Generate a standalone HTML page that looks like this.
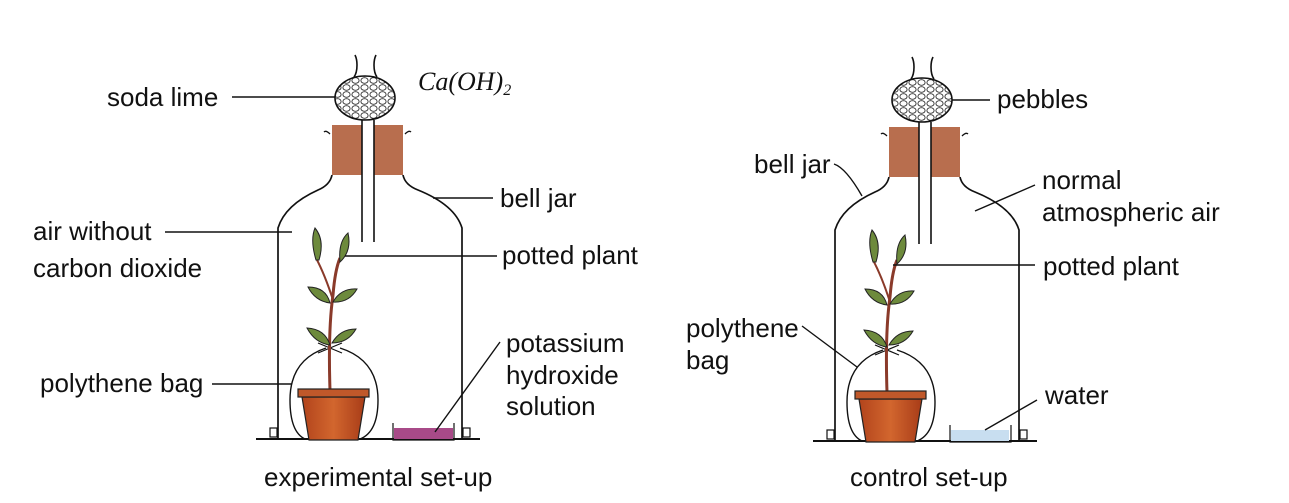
<!DOCTYPE html>
<html><head><meta charset="utf-8"><style>
html,body{margin:0;padding:0;background:#fff;}
svg{display:block;font-family:"Liberation Sans",sans-serif;}
</style></head><body>
<svg width="1289" height="503" viewBox="0 0 1289 503" xmlns="http://www.w3.org/2000/svg">
<defs>
<pattern id="peb" width="9" height="7" patternUnits="userSpaceOnUse">
<rect width="9" height="7" fill="#fff"/>
<ellipse cx="4.5" cy="3.5" rx="3.6" ry="2.8" fill="#fff" stroke="#333" stroke-width="0.9"/>
</pattern>
<linearGradient id="pot" x1="0" x2="1"><stop offset="0" stop-color="#b2441c"/><stop offset="0.5" stop-color="#d2662e"/><stop offset="1" stop-color="#a83c18"/></linearGradient>
<g id="setup">
 <path d="M355 55 q2 4 2 10 q0 8 -3 12 M376 55 q-2 4 -2 10 q0 8 3 12" fill="none" stroke="#111" stroke-width="1.6"/>
 <ellipse cx="365" cy="98" rx="30" ry="22" fill="url(#peb)" stroke="#111" stroke-width="1.6"/>
 <rect x="332" y="125" width="30" height="50" fill="#b86e4e"/>
 <rect x="374" y="125" width="29" height="50" fill="#b86e4e"/>
 <path d="M330 134 q-4 -4 -6 -2 M405 134 q4 -4 6 -2" stroke="#111" fill="none" stroke-width="1.3"/>
 <path d="M362 120 V242 M374 120 V242" stroke="#111" stroke-width="1.6" fill="none"/>
 <path d="M332 175 Q330 185 318 190 Q285 205 278 228 V438 M403 175 Q405 185 418 190 Q455 205 462 228 V438" fill="none" stroke="#111" stroke-width="1.7"/>
 <rect x="270" y="428" width="7" height="9" fill="#fff" stroke="#111" stroke-width="1.2"/>
 <rect x="463" y="428" width="7" height="9" fill="#fff" stroke="#111" stroke-width="1.2"/>
 <line x1="256" y1="439" x2="480" y2="439" stroke="#111" stroke-width="2"/>
 <path d="M326 348 Q290 360 290 400 Q290 432 305 439 M340 348 Q378 360 378 400 Q378 432 360 439" fill="none" stroke="#111" stroke-width="1.4"/>
 <path d="M318 343 L342 353 M318 353 L342 343" stroke="#111" stroke-width="1.2"/>
 <path d="M330 390 Q328 330 333 295 Q335 270 340 258" stroke="#8a3a2a" stroke-width="3" fill="none"/>
 <path d="M333 300 Q325 275 316 258" stroke="#8a3a2a" stroke-width="2" fill="none"/>
 <g fill="#6d8a3c" stroke="#222" stroke-width="1">
  <path d="M316 260 q-6 -20 -1 -32 q10 12 4 32z"/>
  <path d="M340 262 q-2 -20 8 -29 q4 18 -8 29z"/>
  <path d="M330 303 q-15 -2 -22 -16 q18 0 22 16z"/>
  <path d="M333 302 q8 -14 24 -13 q-8 14 -24 13z"/>
  <path d="M330 345 q-15 -2 -23 -17 q18 1 23 17z"/>
  <path d="M332 343 q8 -14 24 -14 q-8 14 -24 14z"/>
 </g>
 <path d="M302 397 H365 L358 440 H309 Z" fill="url(#pot)" stroke="#222" stroke-width="1.2"/>
 <rect x="298" y="389" width="71" height="8" fill="#c0582a" stroke="#222" stroke-width="1.2"/>
</g>
</defs>

<use href="#setup"/>
<rect x="394" y="428" width="59" height="11" fill="#a84a88"/>
<path d="M393 423 V440 H454 V423" fill="none" stroke="#111" stroke-width="1.2"/>

<use href="#setup" transform="translate(557,2)"/>
<rect x="951" y="430" width="58" height="11" fill="#c8def0"/>
<path d="M950 425 V442 H1011 V425" fill="none" stroke="#111" stroke-width="1.2"/>

<g stroke="#111" stroke-width="1.4" fill="none">
 <line x1="232" y1="97" x2="335" y2="97"/>
 <line x1="165" y1="232" x2="292" y2="232"/>
 <line x1="433" y1="198" x2="493" y2="198"/>
 <line x1="345" y1="256" x2="497" y2="256"/>
 <line x1="212" y1="384" x2="292" y2="384"/>
 <line x1="435" y1="432" x2="500" y2="342"/>
 <line x1="952" y1="100" x2="990" y2="100"/>
 <path d="M834 164 q12 4 28 32"/>
 <line x1="975" y1="211" x2="1035" y2="185"/>
 <line x1="893" y1="265" x2="1035" y2="265"/>
 <line x1="802" y1="326" x2="857" y2="367"/>
 <line x1="985" y1="430" x2="1037" y2="400"/>
</g>

<g font-size="26" fill="#111">
 <text x="107" y="106">soda lime</text>
 <text x="33" y="240">air without</text>
 <text x="33" y="277">carbon dioxide</text>
 <text x="500" y="207">bell jar</text>
 <text x="502" y="264">potted plant</text>
 <text x="40" y="392">polythene bag</text>
 <text x="506" y="352">potassium</text>
 <text x="506" y="384">hydroxide</text>
 <text x="506" y="415">solution</text>
 <text x="264" y="486">experimental set-up</text>
 <text x="997" y="108">pebbles</text>
 <text x="754" y="173">bell jar</text>
 <text x="1042" y="189">normal</text>
 <text x="1042" y="221">atmospheric air</text>
 <text x="1043" y="275">potted plant</text>
 <text x="686" y="337">polythene</text>
 <text x="686" y="369">bag</text>
 <text x="1045" y="404">water</text>
 <text x="850" y="486">control set-up</text>
 <text x="418" y="90" font-family="Liberation Serif,serif" font-style="italic" font-size="26">Ca(OH)<tspan font-size="16" dy="5">2</tspan></text>
</g>
</svg>
</body></html>
